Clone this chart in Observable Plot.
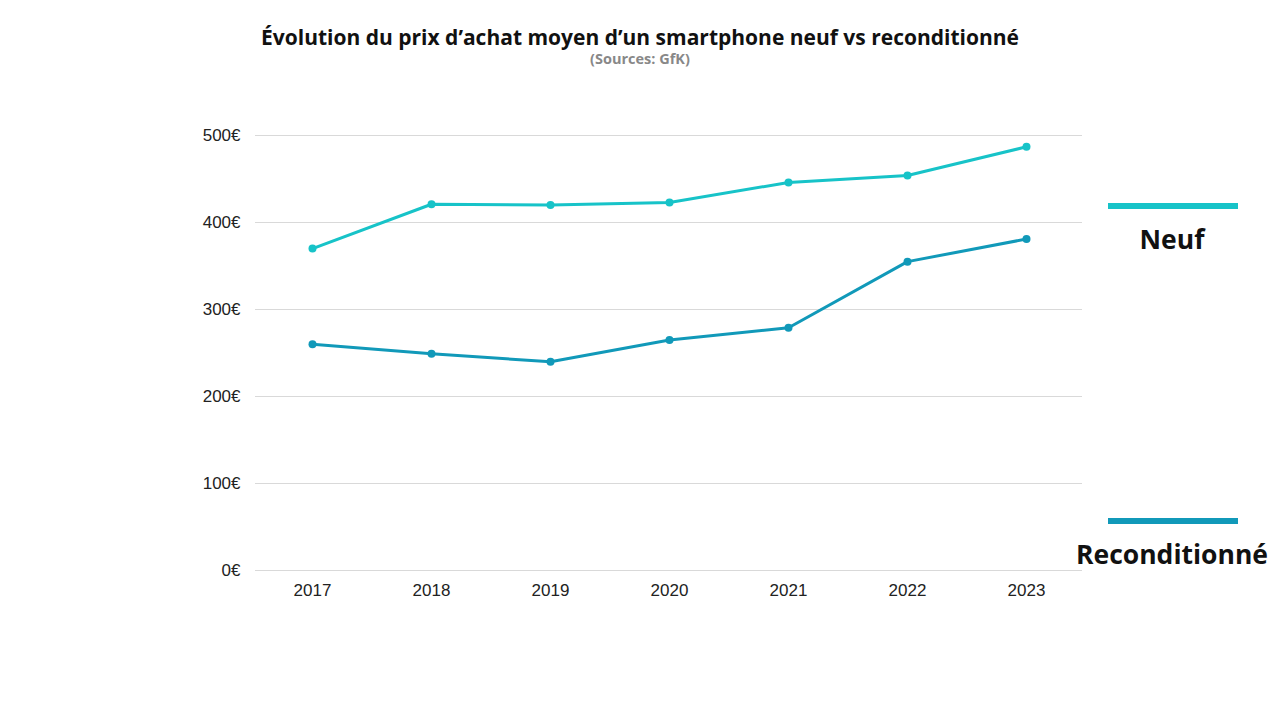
<!DOCTYPE html>
<html><head><meta charset="utf-8">
<script src="https://cdn.jsdelivr.net/npm/d3@7"></script>
<script src="https://cdn.jsdelivr.net/npm/@observablehq/plot@0.6"></script>
<style>
body{margin:0;background:#fff;}
#wrap{position:relative;width:1280px;height:720px;overflow:hidden;}
#title{position:absolute;top:23px;left:0;width:1280px;text-align:center;font-family:"Open Sans",sans-serif;font-weight:700;font-size:21px;color:#111;}
#sub{position:absolute;top:49px;left:0;width:1280px;text-align:center;font-family:"Open Sans",sans-serif;font-weight:700;font-size:14.5px;color:#888;}
#chart{position:absolute;top:90px;left:0;}
.leg{position:absolute;width:240px;text-align:center;font-family:"Open Sans",sans-serif;font-weight:700;font-size:26.5px;color:#111;}
.legline{position:absolute;left:1108px;width:130px;height:6px;}
</style></head>
<body><div id="wrap">
<div id="title"></div><div id="sub"></div>
<div id="chart"></div>
</div>
<script>
const years = ["2017","2018","2019","2020","2021","2022","2023"];
const neuf = [370, 421, 420, 423, 446, 454, 487];
const recond = [260, 249, 240, 265, 279, 355, 381];
const seriesNames = ["Neuf", "Reconditionné"];
const seriesColors = ["#17c3c8", "#1199b9"];
const yTicks = [0, 100, 200, 300, 400, 500];

document.getElementById("title").textContent = "Évolution du prix d’achat moyen d’un smartphone neuf vs reconditionné";
document.getElementById("sub").textContent = "(Sources: GfK)";

const data = [];
years.forEach((y, i) => {
  data.push({year: y, value: neuf[i], serie: seriesNames[0]});
  data.push({year: y, value: recond[i], serie: seriesNames[1]});
});

const plot = Plot.plot({
  width: 1280, height: 560,
  marginLeft: 255, marginRight: 198, marginTop: 45, marginBottom: 80,
  style: {fontFamily: "'Liberation Sans', Arial, sans-serif", fontSize: "17px", color: "#222", background: "transparent"},
  x: {type: "point", domain: years, padding: 0.47, label: null},
  y: {domain: [0, 500], label: null},
  color: {domain: seriesNames, range: seriesColors},
  marks: [
    Plot.ruleY(yTicks, {stroke: "#d9d9d9", strokeWidth: 1}),
    Plot.axisY({ticks: yTicks, tickSize: 0, tickPadding: 15, tickFormat: d => d + "€", fontSize: 17, label: null}),
    Plot.axisX({tickSize: 0, tickPadding: 13, fontSize: 17, label: null}),
    Plot.line(data, {x: "year", y: "value", z: "serie", stroke: "serie", strokeWidth: 3}),
    Plot.dot(data, {x: "year", y: "value", fill: "serie", r: 4})
  ]
});
document.getElementById("chart").appendChild(plot);

// legend (HTML, outside the plot)
const wrap = document.getElementById("wrap");
const legPos = [{line: 203, text: 221}, {line: 518, text: 536}];
seriesNames.forEach((name, i) => {
  const l = document.createElement("div");
  l.className = "legline";
  l.style.top = legPos[i].line + "px";
  l.style.background = seriesColors[i];
  wrap.appendChild(l);
  const t = document.createElement("div");
  t.className = "leg";
  t.style.left = (1172 - 120) + "px";
  t.style.top = legPos[i].text + "px";
  t.textContent = name;
  wrap.appendChild(t);
});
</script>
</body></html>
